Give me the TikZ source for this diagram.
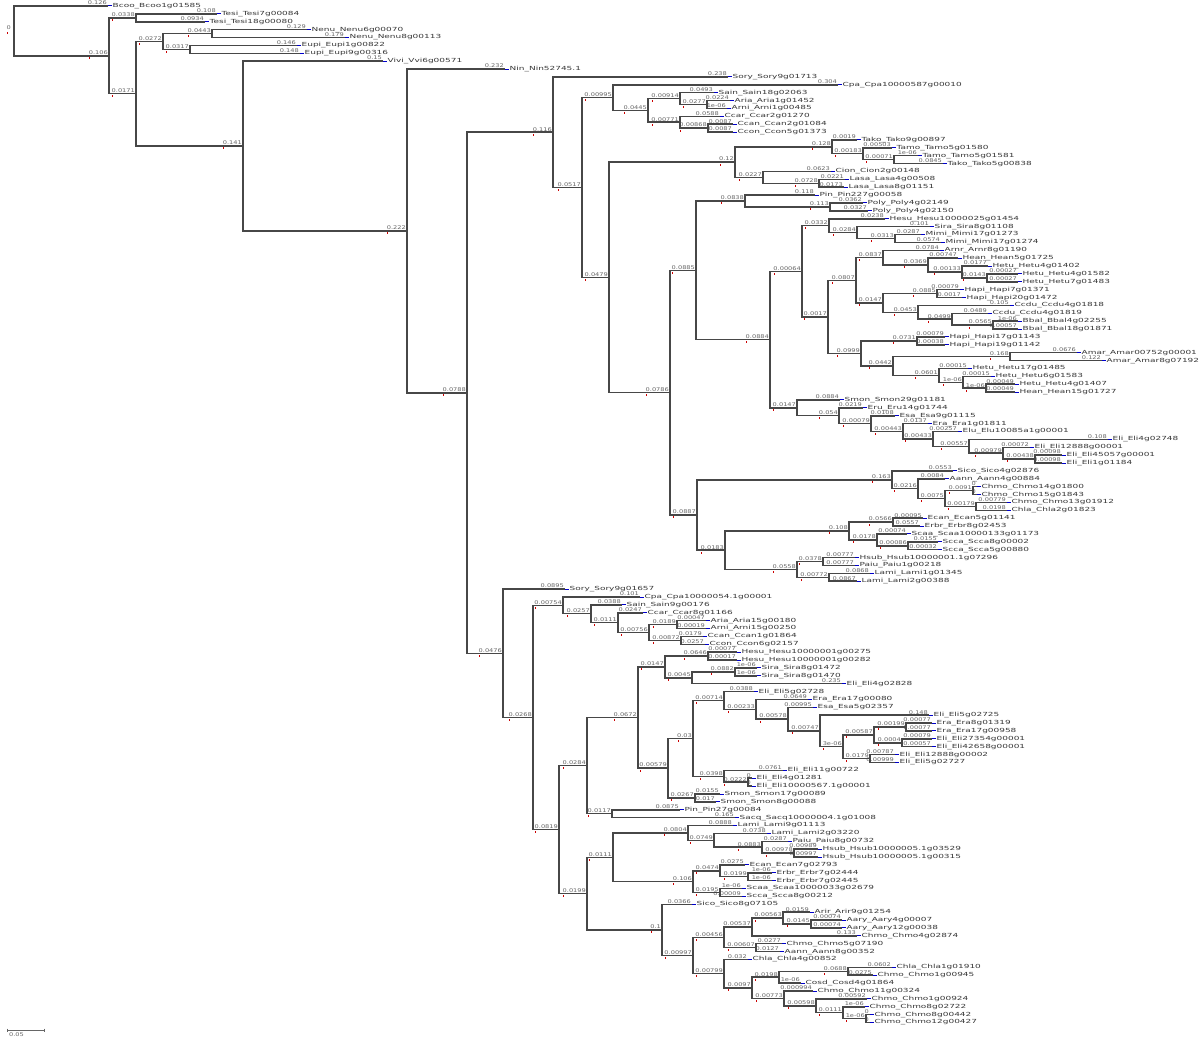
\documentclass[tikz,border=0pt]{standalone}
\usepackage{graphicx}
\usepackage{fontspec}
\newfontfamily\treefont{DejaVu Sans}
\usetikzlibrary{calc}
\newcommand{\tw}[1]{\scalebox{1.3}[1]{#1}}
\newcommand{\tn}[1]{\scalebox{1.6}[1]{#1}}

\begin{document}
\begin{tikzpicture}[x=1pt, y=-1pt,
    branch/.style={draw=black!72, line width=1.5pt},
    blen/.style={font=\treefont\fontsize{5.1}{6}\selectfont, text=black!60, inner sep=0.9pt, anchor=south east},
    taxon/.style={font=\treefont\fontsize{5.6}{6.5}\selectfont, text=black!78, inner sep=0pt, anchor=west},
    nodemark/.style={fill=red!80!black},
    tipmark/.style={draw=blue!80!black, line width=1pt}]
  \fill[white] (0,0) rectangle (1200,1040);
  \useasboundingbox (0,0) rectangle (1200,1040);

  % tips: index / branch end / length / name
  \foreach \i/\xe/\bl/\nm in {
    0/108/0.126/Bcoo\_Bcoo1g01585, 1/217/0.108/Tesi\_Tesi7g00084, 2/205/0.0934/Tesi\_Tesi18g00080,
    3/307/0.129/Nenu\_Nenu6g00070, 4/345/0.179/Nenu\_Nenu8g00113, 5/297/0.146/Eupi\_Eupi1g00822,
    6/300/0.148/Eupi\_Eupi9g00316, 7/383/0.15/Vivi\_Vvi6g00571, 8/505/0.232/Nin\_Nin52745.1,
    9/728/0.238/Sory\_Sory9g01713, 10/838/0.304/Cpa\_Cpa10000587g00010, 11/714/0.0493/Sain\_Sain18g02063,
    12/730/0.0224/Aria\_Aria1g01452, 13/727/1e-06/Arni\_Arni1g00485, 14/720/0.0588/Ccar\_Ccar2g01270,
    15/733/0.0087/Ccan\_Ccan2g01084, 16/733/0.0087/Ccon\_Ccon5g01373, 17/857/0.0019/Tako\_Tako9g00897,
    18/892/0.00503/Tamo\_Tamo5g01580, 19/918/1e-06/Tamo\_Tamo5g01581, 20/943/0.0845/Tako\_Tako5g00838,
    21/831/0.0623/Cion\_Cion2g00148, 22/845/0.0221/Lasa\_Lasa4g00508, 23/844/0.0173/Lasa\_Lasa8g01151,
    24/815/0.118/Pin\_Pin227g00058, 25/863/0.0362/Poly\_Poly4g02149, 26/868/0.0327/Poly\_Poly4g02150,
    27/885/0.0238/Hesu\_Hesu10000025g01454, 28/930/0.101/Sira\_Sira8g01108, 29/921/0.0287/Mimi\_Mimi17g01273,
    30/941/0.0574/Mimi\_Mimi17g01274, 31/940/0.0784/Arnr\_Arnr8g01190, 32/958/0.00747/Hean\_Hean5g01725,
    33/988/0.0177/Hetu\_Hetu4g01402, 34/1018/0.00027/Hetu\_Hetu4g01582, 35/1018/0.00027/Hetu\_Hetu7g01483,
    36/960/0.00079/Hapi\_Hapi7g01371, 37/962/0.0017/Hapi\_Hapi20g01472, 38/1010/0.105/Ccdu\_Ccdu4g01818,
    39/988/0.0489/Ccdu\_Ccdu4g01819, 40/1018/1e-06/Bbal\_Bbal4g02255, 41/1018/0.00057/Bbal\_Bbal18g01871,
    42/945/0.00079/Hapi\_Hapi17g01143, 43/945/0.00038/Hapi\_Hapi19g01142, 44/1077/0.0676/Amar\_Amar00752g00001,
    45/1102/0.122/Amar\_Amar8g07192, 46/968/0.00015/Hetu\_Hetu17g01485, 47/991/0.00015/Hetu\_Hetu6g01583,
    48/1015/0.00049/Hetu\_Hetu4g01407, 49/1015/0.00049/Hean\_Hean15g01727, 50/840/0.0884/Smon\_Smon29g01181,
    51/863/0.0219/Eru\_Eru14g01744, 52/895/0.0108/Esa\_Esa9g01115, 53/928/0.0137/Era\_Era1g01811,
    54/958/0.00257/Elu\_Elu10085a1g00001, 55/1108/0.108/Eli\_Eli4g02748, 56/1030/0.00072/Eli\_Eli12888g00001,
    57/1062/0.00098/Eli\_Eli45057g00001, 58/1062/0.00098/Eli\_Eli1g01184, 59/953/0.0553/Sico\_Sico4g02876,
    60/945/0.0084/Aann\_Aann4g00884, 61/977/0/Chmo\_Chmo14g01800, 62/977/0/Chmo\_Chmo15g01843,
    63/1007/0.00779/Chmo\_Chmo13g01912, 64/1007/0.0198/Chla\_Chla2g01823, 65/923/0.00095/Ecan\_Ecan5g01141,
    66/920/0.0557/Erbr\_Erbr8g02453, 67/907/0.00074/Scaa\_Scaa10000133g01173, 68/938/0.0155/Scca\_Scca8g00002,
    69/938/0.00032/Scca\_Scca5g00880, 70/855/0.00777/Hsub\_Hsub10000001.1g07296, 71/855/0.00777/Paiu\_Paiu1g00218,
    72/870/0.0868/Lami\_Lami1g01345, 73/857/0.0867/Lami\_Lami2g00388, 74/565/0.0895/Sory\_Sory9g01657,
    75/640/0.101/Cpa\_Cpa10000054.1g00001, 76/622/0.0388/Sain\_Sain9g00176, 77/643/0.0247/Ccar\_Ccar8g01166,
    78/706/0.00047/Aria\_Aria15g00180, 79/706/0.00019/Arni\_Arni15g00250, 80/703/0.0179/Ccan\_Ccan1g01864,
    81/705/0.0257/Ccon\_Ccon6g02157, 82/737/0.00077/Hesu\_Hesu10000001g00275, 83/737/0.00017/Hesu\_Hesu10000001g00282,
    84/757/1e-06/Sira\_Sira8g01472, 85/757/1e-06/Sira\_Sira8g01470, 86/842/0.235/Eli\_Eli4g02828,
    87/754/0.0388/Eli\_Eli5g02728, 88/808/0.0649/Era\_Era17g00080, 89/813/0.00995/Esa\_Esa5g02357,
    90/929/0.148/Eli\_Eli5g02725, 91/932/0.00077/Era\_Era8g01319, 92/932/0.00077/Era\_Era17g00958,
    93/932/0.00079/Eli\_Eli27354g00001, 94/932/0.00057/Eli\_Eli42658g00001, 95/895/0.00787/Eli\_Eli12888g00002,
    96/895/0.00999/Eli\_Eli5g02727, 97/783/0.0761/Eli\_Eli11g00722, 98/752/0/Eli\_Eli4g01281,
    99/752/0/Eli\_Eli10000567.1g00001, 100/720/0.0155/Smon\_Smon17g00089, 101/716/0.017/Smon\_Smon8g00088,
    102/680/0.0875/Pin\_Pin27g00084, 103/735/0.165/Sacq\_Sacq10000004.1g01008, 104/733/0.0888/Lami\_Lami9g01113,
    105/767/0.0738/Lami\_Lami2g03220, 106/788/0.0287/Paiu\_Paiu8g00732, 107/818/0.00989/Hsub\_Hsub10000005.1g03529,
    108/818/0.00997/Hsub\_Hsub10000005.1g00315, 109/745/0.0275/Ecan\_Ecan7g02793, 110/772/1e-06/Erbr\_Erbr7g02444,
    111/772/1e-06/Erbr\_Erbr7g02445, 112/742/1e-06/Scaa\_Scaa10000033g02679, 113/742/0.00009/Scca\_Scca8g00212,
    114/692/0.0366/Sico\_Sico8g07105, 115/810/0.0159/Arir\_Arir9g01254, 116/842/0.00074/Aary\_Aary4g00007,
    117/842/0.00074/Aary\_Aary12g00038, 118/857/0.133/Chmo\_Chmo4g02874, 119/782/0.0277/Chmo\_Chmo5g07190,
    120/780/0.0127/Aann\_Aann8g00352, 121/748/0.032/Chla\_Chla4g00852, 122/892/0.0602/Chla\_Chla1g01910,
    123/873/0.0275/Chmo\_Chmo1g00945, 124/801/1e-06/Cosd\_Cosd4g01864, 125/813/0.000994/Chmo\_Chmo11g00324,
    126/867/0.00592/Chmo\_Chmo1g00924, 127/865/1e-06/Chmo\_Chmo8g02722, 128/870/0/Chmo\_Chmo8g00442,
    129/870/0/Chmo\_Chmo12g00427}{
    \coordinate (l\i) at (\xe, {6+7.88*\i});
    \node[blen] (b\i) at (l\i) {\tw{\bl}};
    \draw[tipmark] (l\i) -- ++(3.5,0);
    \node[taxon] (n\i) at ($(l\i)+(4.5,0)$) {\tn{\nm}};
  }

  % inner nodes, children first: name / x / child / child / length
  \foreach \nd/\xx/\ca/\cb/\bl in {
    B/136/l1/l2/0.0338, E/212/l3/l4/0.0443, F/190/l5/l6/0.0317, D/163/E/F/0.0272,
    R/707/l12/l13/0.0277, P/680/l11/R/0.00914, S/708/l15/l16/0.00868, Q/680/l14/S/0.00771,
    O/648/P/Q/0.0445, M/613/l10/O/0.00995,
    X/894/l19/l20/0.00071, W/863/l18/X/0.00183, U/832/l17/W/0.128,
    Y/819/l22/l23/0.0728, V/763/l21/Y/0.0227, T/735/U/V/0.12,
    AF/830/l25/l26/0.113, AD/745/l24/AF/0.0838,
    AL/895/l29/l30/0.0313, AK/857/l28/AL/0.0284, AI/829/l27/AK/0.0332,
    AR/987/l34/l35/0.0143, AQ/962/l33/AR/0.00133, AP/928/l32/AQ/0.0369, AO/883/l31/AP/0.0837,
    AT/937/l36/l37/0.0885, AW/993/l40/l41/0.0565, AV/952/l39/AW/0.0499, AU/918/l38/AV/0.0453,
    AS/883/AT/AU/0.0147, AM/856/AO/AS/0.0807,
    AX/917/l42/l43/0.0731, AZ/1010/l44/l45/0.168, BC/986/l48/l49/1e-06, BB/963/l47/BC/1e-06,
    BA/939/l46/BB/0.0601, AY/893/AZ/BA/0.0442, AN/861/AX/AY/0.0999,
    AJ/828/AM/AN/0.0017, AG/802/AI/AJ/0.00064,
    BK/1035/l57/l58/0.00438, BJ/1003/l56/BK/0.00979, BH/969/l55/BJ/0.00557, BG/933/l54/BH/0.00433,
    BF/903/l53/BG/0.00443, BE/871/l52/BF/0.00079, BD/839/l51/BE/0.054, AH/797/l50/BD/0.0147,
    AE/770/AG/AH/0.0884, AB/696/AD/AE/0.0885,
    BP/973/l61/l62/0.0091, BQ/976/l63/l64/0.00179, BO/945/BP/BQ/0.0075, BN/918/l60/BO/0.0216,
    BL/892/l59/BN/0.163,
    BT/893/l65/l66/0.0566, BV/908/l68/l69/0.00086, BU/877/l67/BV/0.0178, BR/849/BT/BU/0.108,
    BW/823/l70/l71/0.0378, BX/829/l72/l73/0.00772, BS/797/BW/BX/0.0558, BM/725/BR/BS/0.0183,
    AC/697/BL/BM/0.0887, AA/670/AB/AC/0.0786, N/609/T/AA/0.0479, L/582/M/N/0.0517, J/553/l9/L/0.116,
    CE/677/l78/l79/0.0189, CF/681/l80/l81/0.00872, CD/649/CE/CF/0.00756, CC/618/l77/CD/0.0111,
    CB/591/l76/CC/0.0257, BZ/563/l75/CB/0.00754,
    CM/708/l82/l83/0.0646, CO/735/l84/l85/0.0882, CN/692/CO/l86/0.0045, CK/665/CM/CN/0.0147,
    CZ/906/l91/l92/0.00199, DA/902/l93/l94/0.0004, CX/874/CZ/DA/0.00587, CY/870/l95/l96/0.0179,
    CW/843/CX/CY/3e-06, CV/820/l90/CW/0.00747, CU/788/l89/CV/0.00578, CT/756/l88/CU/0.00233,
    CR/724/l87/CT/0.00714, DB/748/l98/l99/0.0222, CS/724/l97/DB/0.0398, CP/693/CR/CS/0.03,
    CQ/695/l100/l101/0.0267, CL/668/CP/CQ/0.00579, CI/638/CK/CL/0.0672,
    CJ/612/l102/l103/0.0117, CG/587/CI/CJ/0.0284,
    DI/794/l107/l108/0.00978, DH/762/l106/DI/0.0883, DG/714/l105/DH/0.0749, DE/688/l104/DG/0.0804,
    DL/748/l110/l111/0.0199, DJ/720/l109/DL/0.0474, DK/720/l112/l113/0.0195, DF/693/DJ/DK/0.106,
    DC/613/DE/DF/0.0111,
    DS/811/l116/l117/0.0145, DR/783/l115/DS/0.00563, DP/752/DR/l118/0.00537, DQ/756/l119/l120/0.00607,
    DN/724/DP/DQ/0.00456,
    DW/848/l122/l123/0.0688, DU/779/DW/l124/0.0198, DZ/866/l128/l129/1e-06, DY/843/l127/DZ/0.0111,
    DX/816/l126/DY/0.00598, DV/784/l125/DX/0.00773, DT/752/DU/DV/0.0097, DO/724/l121/DT/0.00799,
    DM/693/DN/DO/0.00997, DD/662/l114/DM/0.1, CH/587/DC/DD/0.0199,
    CA/559/CG/CH/0.0819, BY/533/BZ/CA/0.0268, K/503/l74/BY/0.0476,
    I/467/J/K/0.0788, H/407/l8/I/0.222, G/243/l7/H/0.141, C/136/D/G/0.0171, A/109/B/C/0.106}{
    \path ($(\ca)!.5!(\cb)$) coordinate (tmp);
    \coordinate (\nd) at (\xx,0 |- tmp);
    \draw[branch] (\ca) -| (\nd) |- (\cb);
    \node[blen] (t\nd) at (\nd) {\tw{\bl}};
    \fill[nodemark] ($(t\nd.south west)+(1.5,1.4)$) rectangle ++(1,2);
    \fill[nodemark] ($(\nd)+(-1.6,-0.5)$) rectangle ++(1.2,1.2);
  }

  % root
  \path ($(l0)!.5!(A)$) coordinate (tmp);
  \coordinate (root) at (14,0 |- tmp);
  \draw[branch] (l0) -| (root) |- (A);
  \node[blen] (troot) at ($(root)+(-2,0)$) {\tw{0}};
  \fill[nodemark] ($(troot.south west)+(1.5,1.4)$) rectangle ++(1,2);

  % scale bar
  \coordinate (sb1) at (7,1030);
  \coordinate (sb2) at (44,1030);
  \draw[black!60, line width=0.8pt] (sb1) -- (sb2);
  \draw[black!60, line width=0.8pt] ($(sb1)+(0,-1.5)$) -- ($(sb1)+(0,1.5)$);
  \draw[black!60, line width=0.8pt] ($(sb2)+(0,-1.5)$) -- ($(sb2)+(0,1.5)$);
  \node[blen, anchor=north west] (sbl) at ($(sb1)+(1,1.5)$) {\tw{0.05}};
\end{tikzpicture}
\end{document}
